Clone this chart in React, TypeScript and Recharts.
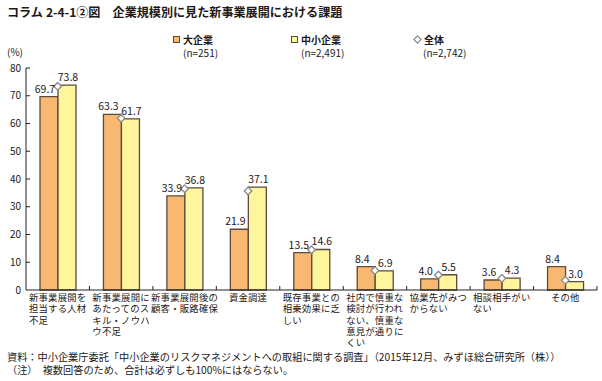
import React from "react";
import { ComposedChart, Bar, Line, XAxis, YAxis, LabelList } from "recharts";

const categories = [
  "新事業展開を担当する人材不足",
  "新事業展開にあたってのスキル・ノウハウ不足",
  "新事業展開後の顧客・販路確保",
  "資金調達",
  "既存事業との相乗効果に乏しい",
  "社内で慎重な検討が行われない、慎重な意見が通りにくい",
  "協業先がみつからない",
  "相談相手がいない",
  "その他",
];
const categoryLines = [
  ["新事業展開を", "担当する人材", "不足"],
  ["新事業展開に", "あたってのス", "キル・ノウハ", "ウ不足"],
  ["新事業展開後の", "顧客・販路確保"],
  ["資金調達"],
  ["既存事業との", "相乗効果に乏", "しい"],
  ["社内で慎重な", "検討が行われ", "ない、慎重な", "意見が通りに", "くい"],
  ["協業先がみつ", "からない"],
  ["相談相手がい", "ない"],
  ["その他"],
];
const largeValues = [69.7, 63.3, 33.9, 21.9, 13.5, 8.4, 4.0, 3.6, 8.4];
const smeValues = [73.8, 61.7, 36.8, 37.1, 14.6, 6.9, 5.5, 4.3, 3.0];
const totalValues = [73.4, 61.9, 36.5, 35.7, 14.5, 7.0, 5.4, 4.2, 3.5];
const yTicks = [0, 10, 20, 30, 40, 50, 60, 70, 80];

const titleHead = "コラム";
const titleRest = "2-4-1②図　企業規模別に見た新事業展開における課題";
const legendItems = [
  { name: "大企業", n: "(n=251)" },
  { name: "中小企業", n: "(n=2,491)" },
  { name: "全体", n: "(n=2,742)" },
];
const source =
  "資料：中小企業庁委託「中小企業のリスクマネジメントへの取組に関する調査」（2015年12月、みずほ総合研究所（株））";
const note = "（注）　複数回答のため、合計は必ずしも100%にはならない。";

const data = categories.map((c, i) => ({
  name: c,
  large: largeValues[i],
  sme: smeValues[i],
  total: totalValues[i],
}));

const W = 602;
const H = 381;
const FONT = "'Noto Sans CJK JP', 'Noto Sans', sans-serif";
const TEXT = "#231815";
const ORANGE = "#F9B872";
const YELLOW = "#FFF59C";
const STROKE = "#5a4b3e";
const M = { top: 68, right: 5, bottom: 61, left: 0 };
const YW = 26;
const plotW = W - M.left - M.right - YW;
const band = plotW / categories.length;

const YTick = (props: any) => {
  const { x, y, payload } = props;
  return (
    <g>
      <text x={x - 5} y={y} dy={3.5} textAnchor="end" fontSize={10} fill={TEXT} fontFamily={FONT}>
        {payload.value}
      </text>
      {payload.value !== 0 && <line x1={x} x2={x + 4} y1={y} y2={y} stroke="#222" strokeWidth={1} />}
    </g>
  );
};

const XTick = (props: any) => {
  const { x, y, payload, index } = props;
  const idx = categories.indexOf(payload.value);
  const lines = categoryLines[idx >= 0 ? idx : index] || [];
  const fs = 9.4;
  const maxLen = Math.max(...lines.map((l) => l.length));
  const blockW = maxLen * 9.6;
  const left = x - blockW / 2;
  return (
    <g>
      <line x1={x + band / 2} x2={x + band / 2} y1={y} y2={y - 4} stroke="#222" strokeWidth={1} />
      {lines.map((l, i) => (
        <text
          key={i}
          x={lines.length === 1 ? x : left}
          y={y + 11 + i * 11.3}
          textAnchor={lines.length === 1 ? "middle" : "start"}
          fontSize={fs}
          letterSpacing={0.2}
          fill={TEXT}
          fontFamily={FONT}
        >
          {l}
        </text>
      ))}
    </g>
  );
};

const Diamond = (props: any) => {
  const { cx, cy } = props;
  if (cx == null || cy == null) return null;
  const s = 3.8;
  return (
    <polygon
      points={`${cx},${cy - s} ${cx + s},${cy} ${cx},${cy + s} ${cx - s},${cy}`}
      fill="#fff"
      stroke="#8a8a8a"
      strokeWidth={1.3}
    />
  );
};

const fmt = (v: any) => Number(v).toFixed(1);

export default function App() {
  return (
    <div
      style={{
        position: "absolute",
        left: 0,
        top: 0,
        width: W,
        height: H,
        background: "#fff",
        fontFamily: FONT,
        color: TEXT,
        overflow: "hidden",
      }}
    >
      <ComposedChart
        width={W}
        height={H}
        data={data}
        margin={M}
        barGap={0}
        barCategoryGap="21%"
      >
        <YAxis
          width={YW}
          domain={[0, 80]}
          ticks={yTicks}
          interval={0}
          tickSize={0}
          tickMargin={0}
          tickLine={false}
          axisLine={{ stroke: "#222", strokeWidth: 1 }}
          tick={<YTick />}
        />
        <XAxis
          dataKey="name"
          height={30}
          interval={0}
          tickSize={0}
          tickMargin={0}
          tickLine={false}
          axisLine={{ stroke: "#222", strokeWidth: 1 }}
          tick={<XTick />}
        />
        <Bar dataKey="large" fill={ORANGE} stroke={STROKE} strokeWidth={1.3} barSize={18} isAnimationActive={false}>
          <LabelList dataKey="large" position="top" offset={4} formatter={fmt} fontSize={10.5} fill={TEXT} fontFamily={FONT} dx={-4} />
        </Bar>
        <Bar dataKey="sme" fill={YELLOW} stroke={STROKE} strokeWidth={1.3} barSize={18} isAnimationActive={false}>
          <LabelList dataKey="sme" position="top" offset={4} formatter={fmt} fontSize={10.5} fill={TEXT} fontFamily={FONT} dx={1} />
        </Bar>
        <Line dataKey="total" stroke="none" dot={<Diamond />} activeDot={false} isAnimationActive={false} />
      </ComposedChart>

      <div style={{ position: "absolute", left: 7, top: 3, fontSize: 12.1, fontWeight: 700, whiteSpace: "nowrap" }}>
        <span>{titleHead}</span>
        <span style={{ marginLeft: 3 }}>{titleRest}</span>
      </div>
      <div style={{ position: "absolute", left: 7, top: 45, fontSize: 10, lineHeight: "13px", whiteSpace: "nowrap" }}>(%)</div>

      {legendItems.map((it, i) => {
        const lx = [173, 291, 413][i];
        return (
          <div key={i} style={{ position: "absolute", left: lx, top: 33, fontSize: 10, lineHeight: "13px", whiteSpace: "nowrap" }}>
            <div style={{ display: "flex", alignItems: "center", height: 13 }}>
              {i < 2 ? (
                <span
                  style={{
                    display: "inline-block",
                    width: 5,
                    height: 5,
                    background: i === 0 ? ORANGE : YELLOW,
                    border: `1px solid ${STROKE}`,
                    marginRight: 3,
                  }}
                />
              ) : (
                <svg width={9} height={9} style={{ marginRight: 2 }}>
                  <polygon points="4.5,0.8 8.2,4.5 4.5,8.2 0.8,4.5" fill="#fff" stroke="#8a8a8a" strokeWidth={1.2} />
                </svg>
              )}
              <span style={{ fontWeight: 700 }}>{it.name}</span>
            </div>
            <div style={{ marginLeft: 10 }}>{it.n}</div>
          </div>
        );
      })}

      <div style={{ position: "absolute", left: 7, top: 350, fontSize: 10.2, lineHeight: "13px", whiteSpace: "nowrap" }}>
        <div>{source}</div>
        <div>{note}</div>
      </div>
    </div>
  );
}
